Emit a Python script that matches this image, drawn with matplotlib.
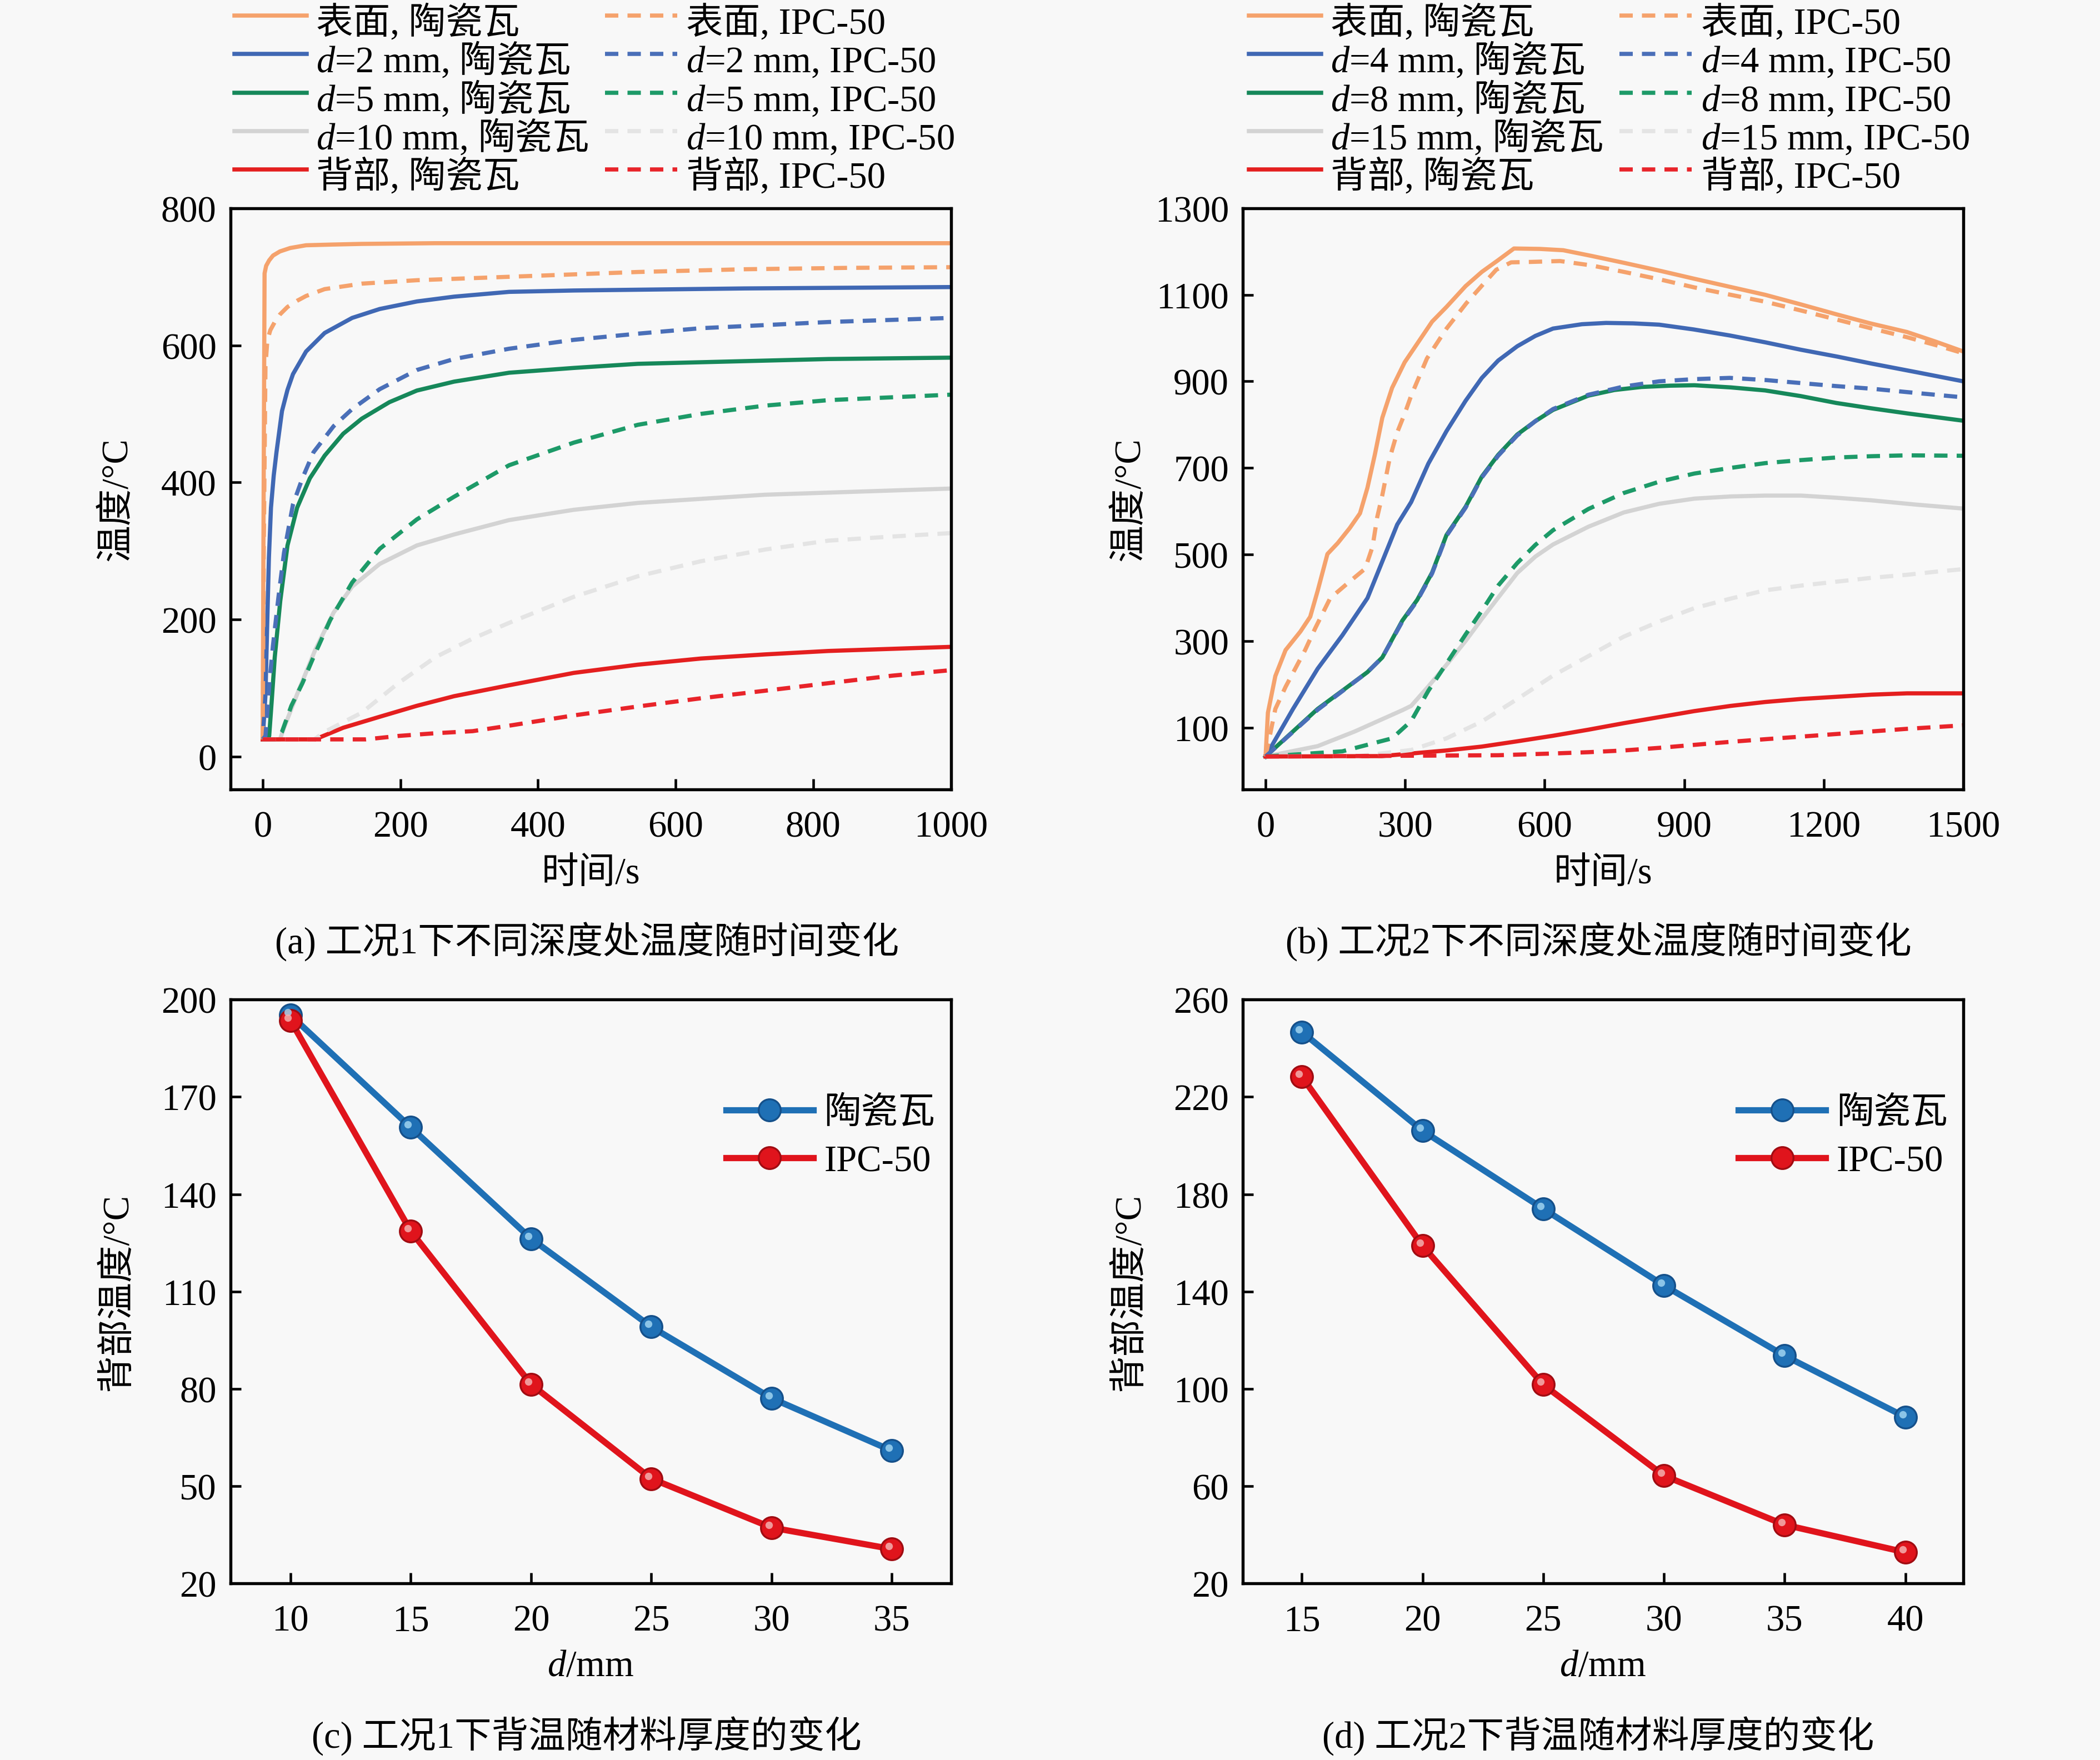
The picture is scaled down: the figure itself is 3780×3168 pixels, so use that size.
import matplotlib
matplotlib.use("Agg")
import matplotlib.pyplot as plt
from matplotlib.transforms import ScaledTranslation

plt.rcParams["font.family"] = ["Liberation Serif", "Noto Sans CJK SC"]
plt.rcParams["mathtext.fontset"] = "custom"
plt.rcParams["mathtext.it"] = "Liberation Serif:italic"
plt.rcParams["mathtext.rm"] = "Noto Sans CJK SC"
plt.rcParams["axes.unicode_minus"] = False

# ---------------- (a) 工况1 ----------------
t_a_surf_c = [0, 1, 2.7, 5, 9.4, 15, 25, 40, 63, 100, 144, 250, 358, 600, 1000]
T_a_surf_c = [25, 300, 705, 716, 724, 731, 737, 742, 746, 747, 748, 749, 749, 749, 749]
t_a_surf_i = [0, 1.5, 4, 6.7, 11, 17.5, 25, 36, 50, 63, 90, 144, 224, 358, 545, 700, 850, 1000]
T_a_surf_i = [25, 300, 569, 607, 622, 634, 645, 656, 665, 672, 682, 690, 695, 700, 707, 711, 713, 714]
t_a_d2_c = [0, 4, 6.7, 9, 12, 16, 20, 28, 36, 44, 63, 90, 130, 170, 224, 278, 358, 452, 700, 1000]
T_a_d2_c = [25, 90, 200, 290, 363, 410, 444, 504, 535, 558, 591, 618, 640, 653, 664, 671, 678, 680, 683, 685]
t_a_d2_i = [0, 4, 6.7, 10, 14.8, 22.8, 30.9, 44, 57.7, 73.8, 103, 130, 170, 224, 278, 358, 452, 545, 637, 822, 1000]
T_a_d2_i = [25, 30, 64, 110, 161, 232, 297, 368, 406, 444, 482, 507, 536, 564, 580, 595, 608, 617, 625, 634, 640]
t_a_d5_c = [0, 7, 9.4, 13, 17.5, 25.5, 36, 50, 68.5, 90, 117, 144, 184, 224, 278, 358, 452, 545, 822, 1000]
T_a_d5_c = [25, 25, 30, 80, 145, 227, 308, 363, 406, 439, 471, 493, 517, 534, 547, 560, 567, 573, 580, 582]
t_a_d5_i = [0, 20, 28, 41.6, 57.7, 73.8, 98, 130, 170, 224, 278, 358, 452, 545, 637, 730, 822, 1000]
T_a_d5_i = [25, 25, 36, 74, 107, 145, 199, 254, 303, 346, 379, 425, 458, 484, 500, 512, 520, 528]
t_a_d10_c = [0, 25, 31, 50, 76.5, 103, 130, 170, 224, 278, 358, 452, 545, 730, 1000]
T_a_d10_c = [25, 25, 42, 91, 156, 210, 248, 281, 308, 324, 345, 360, 370, 382, 391]
t_a_d10_i = [0, 75, 90, 144, 197, 251, 305, 358, 452, 545, 637, 730, 822, 915, 1000]
T_a_d10_i = [25, 25, 36, 64, 107, 145, 172, 195, 233, 263, 285, 302, 315, 321, 326]
t_a_back_c = [0, 76, 117, 170, 224, 278, 358, 452, 545, 637, 730, 822, 1000]
T_a_back_c = [25, 25, 42, 58, 74, 88, 104, 122, 134, 143, 149, 154, 160]
t_a_back_i = [0, 150, 197, 251, 305, 358, 452, 545, 637, 730, 822, 915, 1000]
T_a_back_i = [25, 25, 30, 34, 37, 45, 60, 73, 85, 96, 107, 118, 126]

# ---------------- (b) 工况2 ----------------
t_b_surf_c = [0, 5, 21, 43, 75, 96, 112, 133, 155, 181, 203, 219, 235, 251, 272, 299, 326, 358,
              389, 430, 465, 500, 534, 590, 640, 700, 770, 850, 922, 1000, 1074, 1150, 1227,
              1300, 1379, 1440, 1500]
T_b_surf_c = [33, 134, 219, 279, 322, 356, 416, 501, 526, 561, 595, 654, 731, 816, 885, 944, 987, 1038,
              1072, 1120, 1153, 1180, 1207, 1206, 1203, 1190, 1174, 1155, 1137, 1118, 1100, 1078, 1055,
              1034, 1014, 992, 969]
t_b_surf_i = [0, 21, 43, 85, 107, 139, 176, 214, 230, 240, 251, 267, 283, 299, 313, 347, 389, 432,
              465, 496, 528, 571, 633, 700, 770, 850, 922, 1000, 1074, 1150, 1227, 1300, 1379, 1440, 1500]
T_b_surf_i = [33, 143, 194, 279, 330, 399, 433, 467, 518, 586, 637, 723, 782, 825, 867, 953, 1022, 1081,
              1121, 1158, 1175, 1176, 1178, 1168, 1153, 1135, 1117, 1100, 1084, 1064, 1043, 1023, 1002, 984, 965]
t_b_d4_c = [0, 59, 112, 165, 219, 251, 283, 313, 350, 389, 430, 465, 500, 541, 580, 618, 680, 732,
            790, 846, 920, 998, 1075, 1151, 1230, 1303, 1400, 1500]
T_b_d4_c = [33, 143, 236, 313, 399, 484, 569, 621, 710, 785, 855, 908, 948, 981, 1005, 1022, 1032, 1035,
            1034, 1031, 1020, 1006, 990, 973, 957, 941, 921, 900]
t_b_d4_i = [0, 59, 112, 165, 219, 251, 294, 326, 358, 389, 430, 465, 500, 541, 580, 618, 694, 770,
            846, 920, 998, 1075, 1151, 1227, 1303, 1400, 1500]
T_b_d4_i = [33, 90, 141, 184, 228, 262, 345, 393, 456, 543, 608, 678, 728, 775, 808, 836, 869, 888,
            900, 905, 908, 903, 896, 889, 883, 873, 863]
t_b_d8_c = [0, 59, 112, 165, 219, 251, 294, 326, 358, 389, 430, 465, 500, 541, 580, 618, 694, 750,
            808, 870, 922, 1000, 1074, 1150, 1227, 1300, 1379, 1500]
T_b_d8_c = [33, 91, 143, 185, 228, 262, 347, 395, 458, 545, 610, 680, 730, 777, 808, 834, 867, 880,
            887, 890, 891, 886, 879, 866, 850, 838, 826, 809]
t_b_d8_i = [0, 165, 272, 313, 350, 389, 430, 465, 500, 541, 580, 618, 694, 770, 846, 922, 1000, 1074,
            1151, 1227, 1303, 1379, 1500]
T_b_d8_i = [33, 45, 75, 115, 185, 248, 315, 370, 428, 480, 522, 556, 605, 642, 668, 687, 700, 711,
            718, 724, 727, 729, 728]
t_b_d15_c = [0, 112, 192, 246, 294, 313, 350, 389, 430, 465, 500, 541, 580, 618, 694, 770, 846, 922,
             1000, 1074, 1151, 1227, 1303, 1400, 1500]
T_b_d15_c = [33, 57, 91, 117, 140, 150, 195, 245, 300, 351, 400, 457, 495, 523, 564, 597, 617, 629,
             634, 636, 636, 631, 625, 615, 606]
t_b_d15_i = [0, 200, 313, 389, 465, 540, 618, 694, 770, 846, 922, 1000, 1074, 1151, 1227, 1303, 1379,
             1440, 1500]
T_b_d15_i = [33, 34, 48, 75, 114, 165, 220, 265, 310, 345, 376, 398, 417, 428, 437, 446, 453, 460, 466]
t_b_back_c = [0, 250, 313, 389, 465, 540, 618, 694, 770, 846, 922, 1000, 1074, 1151, 1227, 1303, 1379, 1500]
T_b_back_c = [33, 34, 40, 47, 56, 68, 81, 95, 110, 124, 138, 150, 159, 166, 171, 176, 179, 179]
t_b_back_i = [0, 500, 618, 694, 770, 846, 922, 1000, 1074, 1151, 1227, 1303, 1379, 1500]
T_b_back_i = [33, 36, 40, 43, 47, 53, 60, 67, 73, 79, 85, 91, 97, 105]

# ---------------- (c)(d) 背温 ----------------
d_c = [10, 15, 20, 25, 30, 35]
back_c_cer = [195.2, 160.6, 126.3, 99.1, 77.1, 60.9]
back_c_ipc = [193.6, 128.6, 81.4, 52.3, 37.2, 30.6]
d_d = [15, 20, 25, 30, 35, 40]
back_d_cer = [246.7, 206.1, 174.0, 142.5, 113.6, 88.4]
back_d_ipc = [228.3, 158.8, 101.7, 64.3, 44.1, 32.8]

labels_a = ["表面, 陶瓷瓦", "$d$=2 mm, $\\mathrm{陶瓷瓦}$", "$d$=5 mm, $\\mathrm{陶瓷瓦}$",
            "$d$=10 mm, $\\mathrm{陶瓷瓦}$", "背部, 陶瓷瓦",
            "表面, IPC-50", "$d$=2 mm, IPC-50", "$d$=5 mm, IPC-50",
            "$d$=10 mm, IPC-50", "背部, IPC-50"]
labels_b = ["表面, 陶瓷瓦", "$d$=4 mm, $\\mathrm{陶瓷瓦}$", "$d$=8 mm, $\\mathrm{陶瓷瓦}$",
            "$d$=15 mm, $\\mathrm{陶瓷瓦}$", "背部, 陶瓷瓦",
            "表面, IPC-50", "$d$=4 mm, IPC-50", "$d$=8 mm, IPC-50",
            "$d$=15 mm, IPC-50", "背部, IPC-50"]

colors_t = ["#f5a26c", "#4068b4", "#16885a", "#d3d3d3", "#e41f1f"]
colors_i = ["#f5a26c", "#4a6fb8", "#1d9a68", "#e4e4e4", "#e8242a"]
c_cer = "#1f70b5"
c_ipc = "#e0141c"

BG = "#f8f8f8"
TICK_FS = 16
LAB_FS = 16
LEG_FS = 16

fig = plt.figure(figsize=(12.6, 10.5633), dpi=300, facecolor=BG)
ax_a = fig.add_axes([0.1097, 0.5513, 0.3431, 0.3301])
ax_b = fig.add_axes([0.5918, 0.5513, 0.3431, 0.3301])
ax_c = fig.add_axes([0.1097, 0.1003, 0.3431, 0.3316])
ax_d = fig.add_axes([0.5918, 0.1003, 0.3431, 0.3316])


def style_axes(ax):
    ax.set_facecolor(BG)
    for sp in ax.spines.values():
        sp.set_linewidth(1.3)
    ax.tick_params(direction="in", length=4.5, width=1.1, labelsize=TICK_FS,
                   top=False, right=False)
    ax.tick_params(axis="x", pad=9)
    ax.tick_params(axis="y", pad=6)


def time_panel(ax, series_c, series_i, labels, legend_x):
    lines = []
    for (t, T), col in zip(series_c, colors_t):
        ln, = ax.plot(t, T, color=col, lw=1.8, solid_joinstyle="round")
        lines.append(ln)
    for (t, T), col in zip(series_i, colors_i):
        ln, = ax.plot(t, T, color=col, lw=1.8, linestyle=(0, (3.2, 2.2)))
        lines.append(ln)
    # tall handle boxes keep every row the same height
    ax.legend(lines, labels, ncol=2, loc="center left",
              bbox_to_anchor=(legend_x, 0.9441), bbox_transform=fig.transFigure,
              frameon=False, fontsize=LEG_FS, handlelength=1.95, handleheight=1.5,
              handletextpad=0.25, columnspacing=0.45, labelspacing=-0.18,
              borderpad=0, borderaxespad=0)


# (a)
time_panel(ax_a,
           [(t_a_surf_c, T_a_surf_c), (t_a_d2_c, T_a_d2_c), (t_a_d5_c, T_a_d5_c),
            (t_a_d10_c, T_a_d10_c), (t_a_back_c, T_a_back_c)],
           [(t_a_surf_i, T_a_surf_i), (t_a_d2_i, T_a_d2_i), (t_a_d5_i, T_a_d5_i),
            (t_a_d10_i, T_a_d10_i), (t_a_back_i, T_a_back_i)],
           labels_a, 0.1116)
ax_a.set_xlim(-47, 1000)
ax_a.set_ylim(-48, 800)
ax_a.set_xticks([0, 200, 400, 600, 800, 1000])
ax_a.set_yticks([0, 200, 400, 600, 800])

# (b)
time_panel(ax_b,
           [(t_b_surf_c, T_b_surf_c), (t_b_d4_c, T_b_d4_c), (t_b_d8_c, T_b_d8_c),
            (t_b_d15_c, T_b_d15_c), (t_b_back_c, T_b_back_c)],
           [(t_b_surf_i, T_b_surf_i), (t_b_d4_i, T_b_d4_i), (t_b_d8_i, T_b_d8_i),
            (t_b_d15_i, T_b_d15_i), (t_b_back_i, T_b_back_i)],
           labels_b, 0.5947)
ax_b.set_xlim(-49, 1500)
ax_b.set_ylim(-43, 1300)
ax_b.set_xticks([0, 300, 600, 900, 1200, 1500])
ax_b.set_yticks([100, 300, 500, 700, 900, 1100, 1300])

for ax in (ax_a, ax_b):
    style_axes(ax)
    ax.set_xlabel("时间/s", fontsize=LAB_FS, va="center")
    ax.xaxis.set_label_coords(0.5, -0.145)
    ax.set_ylabel("温度/°C", fontsize=LAB_FS, va="center")
    ax.yaxis.set_label_coords(-0.157, 0.5)


def sphere_line(ax, x, y, col, edge, hl, label):
    ln, = ax.plot(x, y, color=col, lw=2.7, marker="o", ms=9.5, mfc=col, mec=edge,
                  mew=0.8, label=label, zorder=3)
    shift = ax.transData + ScaledTranslation(-1.2 / 72, 1.2 / 72, fig.dpi_scale_trans)
    ax.plot(x, y, linestyle="none", marker="o", ms=3.2, mfc=hl, mec="none",
            alpha=0.85, transform=shift, zorder=4)
    return ln


for ax, d, cer, ipc, xlim, ylim, yt in (
        (ax_c, d_c, back_c_cer, back_c_ipc, (7.5, 37.45), (20, 200), [20, 50, 80, 110, 140, 170, 200]),
        (ax_d, d_d, back_d_cer, back_d_ipc, (12.55, 42.4), (20, 260), [20, 60, 100, 140, 180, 220, 260])):
    style_axes(ax)
    sphere_line(ax, d, cer, c_cer, "#15508a", "#9fd4f0", "陶瓷瓦")
    sphere_line(ax, d, ipc, c_ipc, "#a00c12", "#f3b0b0", "IPC-50")
    ax.set_xlim(*xlim)
    ax.set_ylim(*ylim)
    ax.set_xticks(d)
    ax.set_yticks(yt)
    ax.set_xlabel("$d$/mm", fontsize=LAB_FS, va="center")
    ax.xaxis.set_label_coords(0.5, -0.142)
    ax.set_ylabel("背部温度/°C", fontsize=LAB_FS, va="center")
    ax.yaxis.set_label_coords(-0.157, 0.5)
    ax.legend(loc="center left", bbox_to_anchor=(0.688, 0.764), frameon=False,
              fontsize=LEG_FS, handlelength=2.35, handletextpad=0.3, labelspacing=0.38,
              numpoints=1, borderpad=0, borderaxespad=0)

fig.text(0.2794, 0.4651, "(a) 工况1下不同深度处温度随时间变化", ha="center", va="center", fontsize=LAB_FS)
fig.text(0.7611, 0.4651, "(b) 工况2下不同深度处温度随时间变化", ha="center", va="center", fontsize=LAB_FS)
fig.text(0.2794, 0.0139, "(c) 工况1下背温随材料厚度的变化", ha="center", va="center", fontsize=LAB_FS)
fig.text(0.7611, 0.0139, "(d) 工况2下背温随材料厚度的变化", ha="center", va="center", fontsize=LAB_FS)

fig.savefig("out.png", dpi=300, facecolor=BG)
